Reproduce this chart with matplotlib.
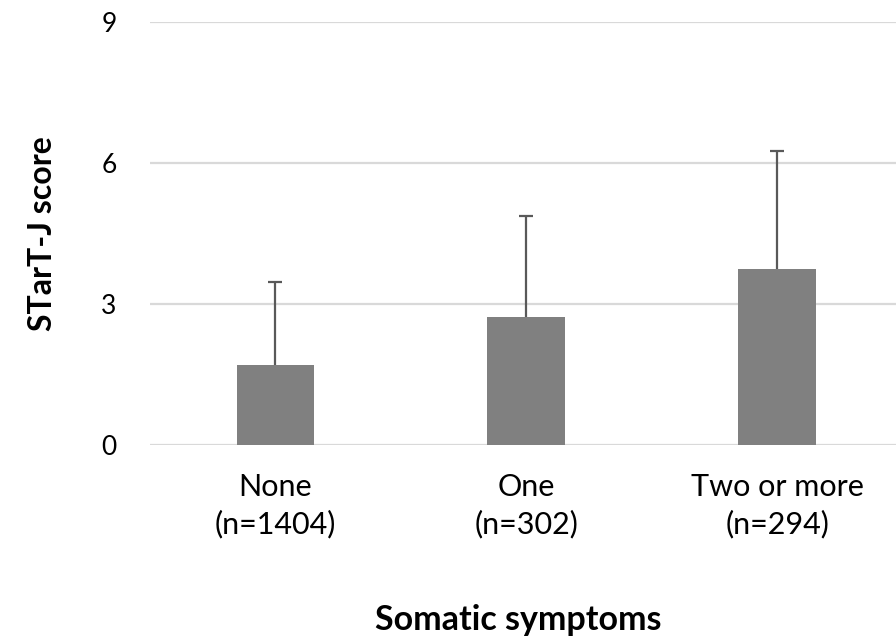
import matplotlib
matplotlib.use("Agg")
import matplotlib.pyplot as plt

categories = ["None\n(n=1404)", "One\n(n=302)", "Two or more\n(n=294)"]
means = [1.70, 2.72, 3.75]
upper_sd = [1.76, 2.16, 2.51]
yticks = [0, 3, 6, 9]

plt.rcParams['font.family'] = ['Lato', 'DejaVu Sans']

fig = plt.figure(figsize=(8.96, 6.36), dpi=100)
ax = fig.add_axes([150/896, 1 - 445/636, 1 - 150/896, (445 - 22.3)/636])

x = list(range(len(categories)))
tops = [m + s for m, s in zip(means, upper_sd)]
ax.bar(x, means, width=0.31, color="#808080", zorder=3)
ax.vlines(x, means, tops, color="#595959", linewidth=1.6, zorder=4)
ax.plot(x, tops, linestyle='none', marker='_', markersize=10, markeredgewidth=1.6,
        color="#595959", zorder=4)

ax.set_xlim(-0.5, 2.474)
ax.set_ylim(0, 9)
ax.set_yticks(yticks)
ax.set_xticks(x)
ax.set_xticklabels(categories, fontsize=22, linespacing=1.4)
ax.tick_params(axis='y', labelsize=19, length=0, pad=24)
ax.tick_params(axis='x', length=0, pad=20)
ax.yaxis.grid(True, color="#d9d9d9", linewidth=1.6, zorder=0)
ax.set_axisbelow(True)
for s in ax.spines.values():
    s.set_visible(False)

ax.set_ylabel("STarT-J score", fontsize=23, fontweight='bold', labelpad=32)
fig.text(518/896, 1 - 620/636, "Somatic symptoms", fontsize=24.5, fontweight='bold',
         ha='center', va='center')

fig.savefig("out.png", dpi=100)
